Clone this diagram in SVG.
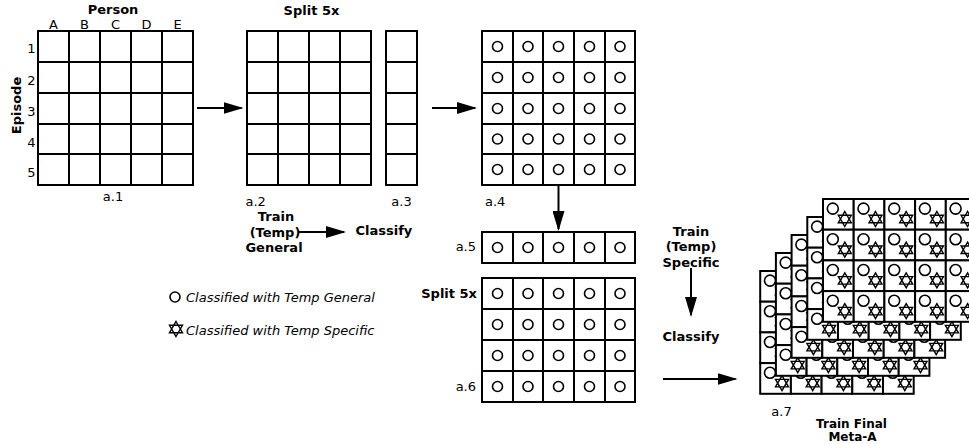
<svg xmlns="http://www.w3.org/2000/svg" xmlns:xlink="http://www.w3.org/1999/xlink" width="969" height="444" viewBox="0 0 969 444">
<style>
.t{font-family:"DejaVu Sans",Verdana,sans-serif;font-size:13px;fill:#000}
.b{font-weight:bold}
.i{font-style:italic}
.m{text-anchor:middle}
.e{text-anchor:end}
.sm{font-size:12px}
.g{fill:#fff;stroke:#000;stroke-width:2}
.gl{fill:none;stroke:#000;stroke-width:2}
.c{fill:#fff;stroke:#000;stroke-width:1.6}
.s{fill:#fff;stroke:#000;stroke-width:1.4;stroke-linejoin:miter}
.ln{stroke:#000;stroke-width:2;fill:none}
</style>
<defs>
<marker id="ah" viewBox="0 0 20 12" refX="18" refY="6" markerWidth="20" markerHeight="12" markerUnits="userSpaceOnUse" orient="auto">
<path d="M0,0 L20,6 L0,12 z" fill="#000"/>
</marker>
<path id="star" d="M0,-7.5 L6.5,3.75 L-6.5,3.75 Z M0,7.5 L6.5,-3.75 L-6.5,-3.75 Z"/>
<g id="cell7">
<rect width="30.7" height="30.7" class="g"/>
<circle cx="9.8" cy="9.6" r="5.5" class="c"/>
<use xlink:href="#star" x="21.8" y="20" class="s"/>
</g>
<g id="layer7">
<use xlink:href="#cell7" x="0" y="0"/><use xlink:href="#cell7" x="30.7" y="0"/><use xlink:href="#cell7" x="61.4" y="0"/><use xlink:href="#cell7" x="92.1" y="0"/><use xlink:href="#cell7" x="122.8" y="0"/>
<use xlink:href="#cell7" x="0" y="30.7"/><use xlink:href="#cell7" x="30.7" y="30.7"/><use xlink:href="#cell7" x="61.4" y="30.7"/><use xlink:href="#cell7" x="92.1" y="30.7"/><use xlink:href="#cell7" x="122.8" y="30.7"/>
<use xlink:href="#cell7" x="0" y="61.4"/><use xlink:href="#cell7" x="30.7" y="61.4"/><use xlink:href="#cell7" x="61.4" y="61.4"/><use xlink:href="#cell7" x="92.1" y="61.4"/><use xlink:href="#cell7" x="122.8" y="61.4"/>
<use xlink:href="#cell7" x="0" y="92.1"/><use xlink:href="#cell7" x="30.7" y="92.1"/><use xlink:href="#cell7" x="61.4" y="92.1"/><use xlink:href="#cell7" x="92.1" y="92.1"/><use xlink:href="#cell7" x="122.8" y="92.1"/>
</g>
</defs>
<rect width="969" height="444" fill="#fff"/>

<g id="a1">
<rect x="38" y="31" width="155" height="154" class="g"/>
<path class="gl" d="M69,31V185M100,31V185M131,31V185M162,31V185M38,62H193M38,93H193M38,124H193M38,154H193"/>
<text class="t b m" x="113" y="13.5">Person</text>
<text class="t m" x="53.5" y="28.5">A</text>
<text class="t m" x="84.5" y="28.5">B</text>
<text class="t m" x="115.5" y="28.5">C</text>
<text class="t m" x="146.5" y="28.5">D</text>
<text class="t m" x="177.5" y="28.5">E</text>
<text class="t m" x="31.5" y="53">1</text>
<text class="t m" x="31.5" y="85">2</text>
<text class="t m" x="31.5" y="116">3</text>
<text class="t m" x="31.5" y="147">4</text>
<text class="t m" x="31.5" y="177">5</text>
<text class="t b m" transform="translate(20.5,105.5) rotate(-90)">Episode</text>
<text class="t m" x="113" y="201">a.1</text>
</g>

<g id="a2">
<rect x="247" y="31" width="124" height="154" class="g"/>
<path class="gl" d="M278,31V185M309,31V185M340,31V185M247,62H371M247,93H371M247,124H371M247,154H371"/>
<text class="t b m" x="311.5" y="14.5">Split 5x</text>
<text class="t" x="245.5" y="206">a.2</text>
</g>

<g id="a3">
<rect x="386" y="31" width="31" height="154" class="g"/>
<path class="gl" d="M386,62H417M386,93H417M386,124H417M386,154H417"/>
<text class="t m" x="401.5" y="206">a.3</text>
</g>

<g id="trainGeneral">
<text class="t b m" x="276" y="221">Train</text>
<text class="t b m" x="275" y="236.5">(Temp)</text>
<text class="t b m" x="274" y="252">General</text>
</g>
<g id="classify1">
<text class="t b" x="355.5" y="235">Classify</text>
</g>

<g id="a4">
<rect x="482" y="31" width="153" height="154" class="g"/>
<path class="gl" d="M513,31V185M543,31V185M574,31V185M605,31V185M482,62H635M482,93H635M482,124H635M482,154H635"/>
<g class="c">
<circle cx="497.5" cy="46.5" r="5"/><circle cx="528" cy="46.5" r="5"/><circle cx="558.5" cy="46.5" r="5"/><circle cx="589.5" cy="46.5" r="5"/><circle cx="620" cy="46.5" r="5"/>
<circle cx="497.5" cy="77.5" r="5"/><circle cx="528" cy="77.5" r="5"/><circle cx="558.5" cy="77.5" r="5"/><circle cx="589.5" cy="77.5" r="5"/><circle cx="620" cy="77.5" r="5"/>
<circle cx="497.5" cy="108.5" r="5"/><circle cx="528" cy="108.5" r="5"/><circle cx="558.5" cy="108.5" r="5"/><circle cx="589.5" cy="108.5" r="5"/><circle cx="620" cy="108.5" r="5"/>
<circle cx="497.5" cy="139" r="5"/><circle cx="528" cy="139" r="5"/><circle cx="558.5" cy="139" r="5"/><circle cx="589.5" cy="139" r="5"/><circle cx="620" cy="139" r="5"/>
<circle cx="497.5" cy="169.5" r="5"/><circle cx="528" cy="169.5" r="5"/><circle cx="558.5" cy="169.5" r="5"/><circle cx="589.5" cy="169.5" r="5"/><circle cx="620" cy="169.5" r="5"/>
</g>
<text class="t" x="485" y="206">a.4</text>
</g>

<g id="a5">
<rect x="482" y="232" width="153" height="31" class="g"/>
<path class="gl" d="M513,232V263M543,232V263M574,232V263M605,232V263"/>
<g class="c">
<circle cx="497.5" cy="247.5" r="5"/><circle cx="528" cy="247.5" r="5"/><circle cx="558.5" cy="247.5" r="5"/><circle cx="589.5" cy="247.5" r="5"/><circle cx="620" cy="247.5" r="5"/>
</g>
<text class="t e" x="476" y="251">a.5</text>
</g>

<g id="a6">
<rect x="482" y="278" width="153" height="124" class="g"/>
<path class="gl" d="M513,278V402M543,278V402M574,278V402M605,278V402M482,309H635M482,340H635M482,371H635"/>
<g class="c">
<circle cx="497.5" cy="293.5" r="5"/><circle cx="528" cy="293.5" r="5"/><circle cx="558.5" cy="293.5" r="5"/><circle cx="589.5" cy="293.5" r="5"/><circle cx="620" cy="293.5" r="5"/>
<circle cx="497.5" cy="324.5" r="5"/><circle cx="528" cy="324.5" r="5"/><circle cx="558.5" cy="324.5" r="5"/><circle cx="589.5" cy="324.5" r="5"/><circle cx="620" cy="324.5" r="5"/>
<circle cx="497.5" cy="355.5" r="5"/><circle cx="528" cy="355.5" r="5"/><circle cx="558.5" cy="355.5" r="5"/><circle cx="589.5" cy="355.5" r="5"/><circle cx="620" cy="355.5" r="5"/>
<circle cx="497.5" cy="386.5" r="5"/><circle cx="528" cy="386.5" r="5"/><circle cx="558.5" cy="386.5" r="5"/><circle cx="589.5" cy="386.5" r="5"/><circle cx="620" cy="386.5" r="5"/>
</g>
<text class="t b e" x="477" y="298">Split 5x</text>
<text class="t e" x="476" y="391">a.6</text>
</g>

<g id="legend">
<circle cx="175" cy="297" r="5" class="c"/>
<text class="t i" x="186" y="302">Classified with Temp General</text>
<use xlink:href="#star" x="176" y="329" class="s"/>
<text class="t i" x="186" y="335">Classified with Temp Specific</text>
</g>

<g id="trainSpecific">
<text class="t b m" x="691" y="235.5">Train</text>
<text class="t b m" x="691" y="251">(Temp)</text>
<text class="t b m" x="691" y="266.5">Specific</text>
</g>
<g id="classify2">
<text class="t b m" x="691" y="341">Classify</text>
</g>

<g id="a7">
<use xlink:href="#layer7" x="760.2" y="271"/>
<use xlink:href="#layer7" x="775.9" y="253"/>
<use xlink:href="#layer7" x="791.6" y="235"/>
<use xlink:href="#layer7" x="807.3" y="217"/>
<use xlink:href="#layer7" x="823" y="199"/>
<text class="t m" x="781.5" y="415.5">a.7</text>
<text class="t sm b m" x="851.5" y="428">Train Final</text>
<text class="t sm b m" x="852.5" y="441">Meta-A</text>
</g>

<g id="connectors">
<line class="ln" x1="197" y1="108" x2="241.5" y2="108" marker-end="url(#ah)"/>
<line class="ln" x1="298" y1="232" x2="344" y2="232" marker-end="url(#ah)"/>
<line class="ln" x1="432" y1="108" x2="475" y2="108" marker-end="url(#ah)"/>
<line class="ln" x1="558.5" y1="185" x2="558.5" y2="229" marker-end="url(#ah)"/>
<line class="ln" x1="691" y1="268" x2="691" y2="315" marker-end="url(#ah)"/>
<line class="ln" x1="663" y1="379" x2="735.5" y2="379" marker-end="url(#ah)"/>
</g>
</svg>
